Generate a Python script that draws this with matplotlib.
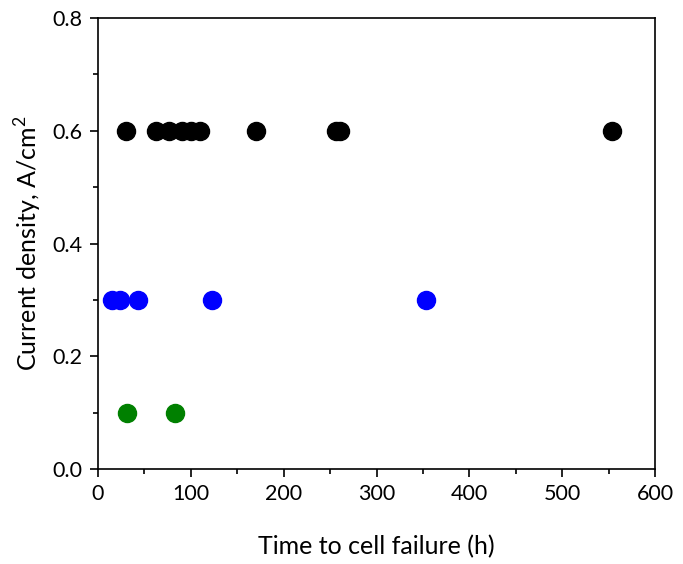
import matplotlib
matplotlib.use("Agg")
import matplotlib.pyplot as plt
from matplotlib.ticker import MultipleLocator

plt.rcParams['font.family'] = ['Lato', 'DejaVu Sans']
plt.rcParams['mathtext.fontset'] = 'custom'
plt.rcParams['mathtext.rm'] = 'Lato'

# time to cell failure (h) at each current density
t_06 = [30, 62, 76, 90, 100, 110, 170, 256, 261, 554]
t_03 = [15, 24, 43, 123, 353]
t_01 = [31, 83]
j_06 = [0.6] * len(t_06)
j_03 = [0.3] * len(t_03)
j_01 = [0.1] * len(t_01)

fig = plt.figure(figsize=(6.83, 5.64), dpi=100)
ax = fig.add_axes([0.1435, 0.1684, 0.8155, 0.7996])

ax.plot(t_06, j_06, 'o', color='black', markersize=13, linestyle='none')
ax.plot(t_03, j_03, 'o', color='#0000ff', markersize=13, linestyle='none')
ax.plot(t_01, j_01, 'o', color='#008000', markersize=13, linestyle='none')

ax.set_xlim(0, 600)
ax.set_ylim(0, 0.8)
ax.xaxis.set_major_locator(MultipleLocator(100))
ax.xaxis.set_minor_locator(MultipleLocator(50))
ax.yaxis.set_major_locator(MultipleLocator(0.2))
ax.yaxis.set_minor_locator(MultipleLocator(0.1))
ax.yaxis.set_major_formatter(lambda v, pos: '{:.1f}'.format(v))

ax.tick_params(which='major', direction='out', length=6, width=1.2, labelsize=15.5, pad=5)
ax.tick_params(which='minor', direction='out', length=3.5, width=1.2)
for s in ax.spines.values():
    s.set_linewidth(1.2)

ax.set_xlabel('Time to cell failure (h)', fontsize=18, labelpad=22)
ax.set_ylabel('Current density, A/cm$^2$', fontsize=18, labelpad=6)

fig.savefig('out.png', dpi=100)
